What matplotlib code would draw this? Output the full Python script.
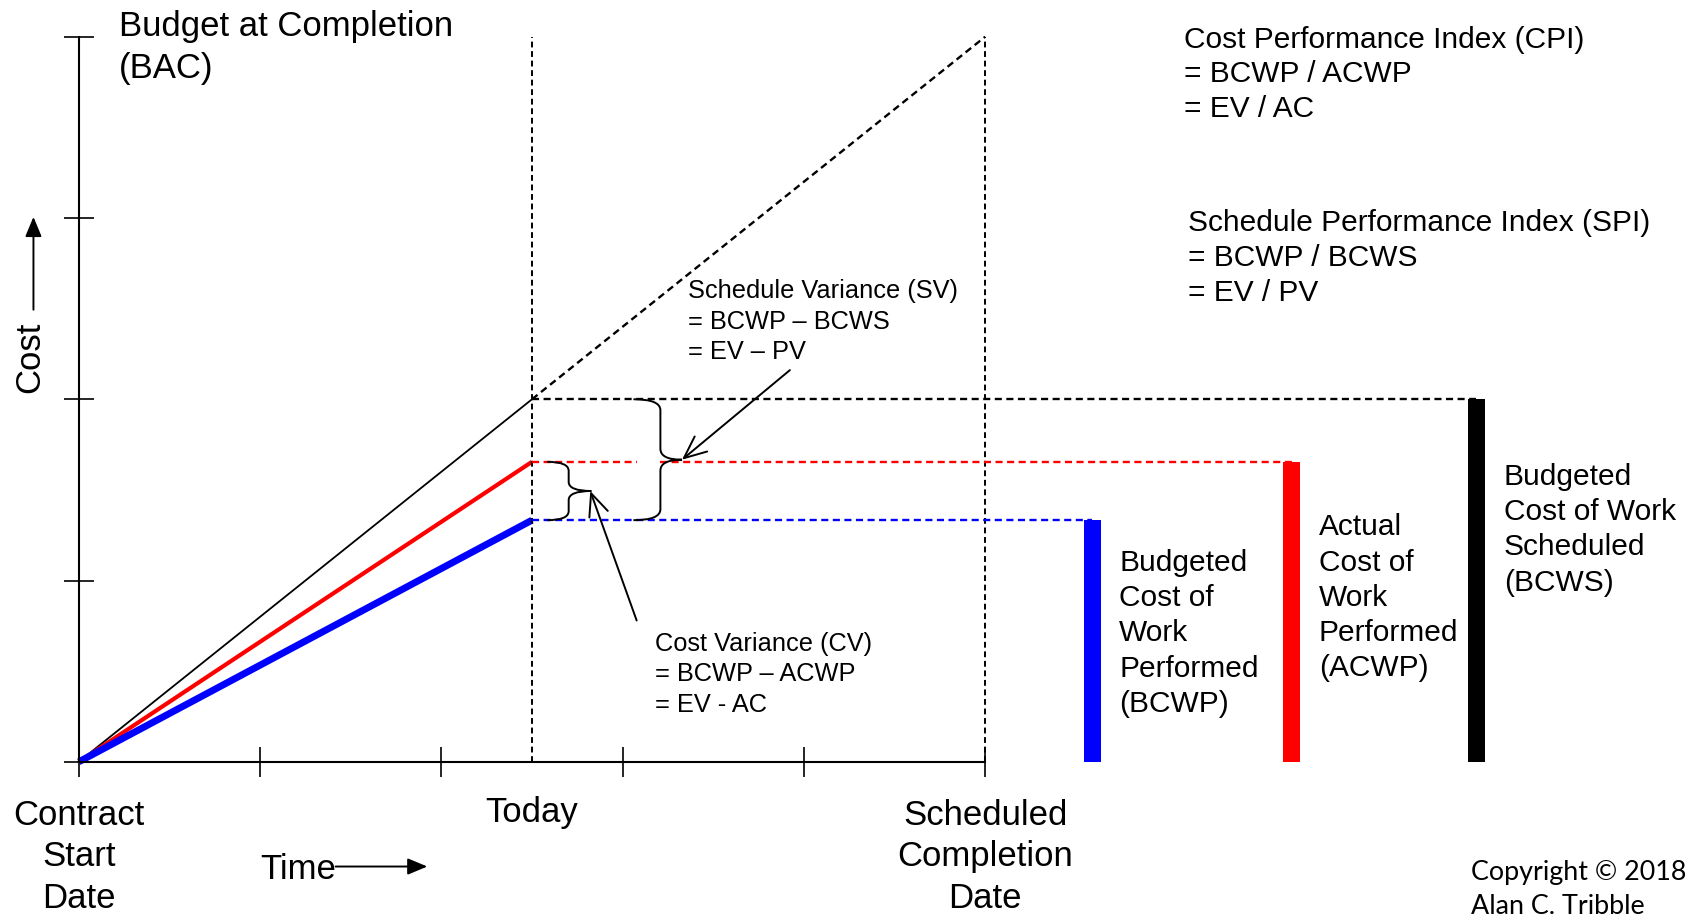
import numpy as np
import matplotlib
matplotlib.use('Agg')
import matplotlib.pyplot as plt
from matplotlib.path import Path
from matplotlib.patches import PathPatch

plt.rcParams['font.family'] = ['Liberation Sans', 'DejaVu Sans']
#===============================================================================
# chart values (time and cost in tick units)
time_ticks = [0, 1, 2, 3, 4, 5]
cost_ticks = [0, 1, 2, 3, 4]
today      = 2.5
completion = 5.0
bac        = 4.0
bcws       = 2.0
acwp       = 1.655
bcwp       = 1.333
bar_names  = ['BCWP', 'ACWP', 'BCWS']
bar_values = [bcwp, acwp, bcws]
bar_colors = ['#0000ff', '#ff0000', '#000000']
bar_x      = [5.59, 6.69, 7.71]
bar_labels = ['Budgeted\nCost of\nWork\nPerformed\n(BCWP)',
              'Actual\nCost of\nWork\nPerformed\n(ACWP)',
              'Budgeted\nCost of Work\nScheduled\n(BCWS)']
label_y    = [587, 554, 491]     # reference pixel rows of label centres
#===============================================================================
# layout helpers: reference pixel (1568 wide view) -> data units
def X(p): return (p - 73) / 168.
def Y(p): return (706 - p) / 168.

def brace(ax, xl, xv, xt, top, bot, d):
    mid = 0.5 * (top + bot)
    verts = [(xl, top), (xv, top), (xv, top - d), (xv, mid + d),
             (xv, mid), (xt, mid), (xv, mid), (xv, mid - d),
             (xv, bot + d), (xv, bot), (xl, bot)]
    codes = [Path.MOVETO, Path.CURVE3, Path.CURVE3, Path.LINETO,
             Path.CURVE3, Path.CURVE3, Path.CURVE3, Path.CURVE3,
             Path.LINETO, Path.CURVE3, Path.CURVE3]
    ax.add_patch(PathPatch(Path(verts, codes), fill=False, lw=1.4,
                           edgecolor='k', zorder=4))
    return mid
#===============================================================================
fig = plt.figure(figsize=(16.92, 9.14), dpi=100)
ax  = fig.add_axes([0, 0, 1, 1])
ax.set_xlim(X(0), X(1568))
ax.set_ylim(Y(847), Y(0))

for s in ['top', 'right']:
    ax.spines[s].set_visible(False)
ax.spines['left'].set_position(('data', 0))
ax.spines['bottom'].set_position(('data', 0))
ax.spines['left'].set_bounds(0, bac)
ax.spines['bottom'].set_bounds(0, completion)
ax.spines['left'].set_linewidth(1.5)
ax.spines['bottom'].set_linewidth(1.5)
ax.set_xticks(time_ticks)
ax.set_yticks(cost_ticks)
ax.tick_params(direction='inout', length=21.6, width=1.2,
               labelbottom=False, labelleft=False)

dash = (0, (3.0, 1.9))
dlw = 1.7
# planned value line
ax.plot([0, today], [0, bcws], color='k', lw=1.3)
ax.plot([today, completion], [bcws, bac], color='k', lw=dlw, ls=dash)
# actual / earned
ax.plot([0, today], [0, acwp], color='#ff0000', lw=3.0, solid_capstyle='butt')
ax.plot([0, today], [0, bcwp], color='#0000ff', lw=5.0, solid_capstyle='butt')
# today / completion verticals
ax.plot([today, today], [0, bac], color='k', lw=1.4, ls=dash)
ax.plot([completion, completion], [0, bac], color='k', lw=1.4, ls=dash)
# level lines to the bars
ax.plot([today, bar_x[2]], [bcws, bcws], color='k', lw=dlw, ls=dash)
ax.plot([today, X(590)], [acwp, acwp], color='#ff0000', lw=dlw, ls=dash)
ax.plot([X(612), bar_x[1]], [acwp, acwp], color='#ff0000', lw=dlw, ls=dash)
ax.plot([today, bar_x[0]], [bcwp, bcwp], color='#0000ff', lw=dlw, ls=dash)

ax.bar(bar_x, bar_values, width=0.095, color=bar_colors, zorder=3)

fs_big = 25
fs_mid = 21.5
fs_small = 18.3
for xb, lab, yl in zip(bar_x, bar_labels, label_y):
    ax.text(xb + 0.15, Y(yl), lab, fontsize=fs_mid, va='center', ha='left',
            linespacing=1.33)
#===============================================================================
# braces and arrows
cv_mid = brace(ax, X(507), X(527), X(548), acwp, bcwp, 0.05)
sv_mid = brace(ax, X(587), X(612), X(632), bcws, bcwp, 0.06)

arr = dict(arrowstyle='->,head_length=0.5,head_width=0.22', lw=1.4,
           color='k', shrinkA=0, shrinkB=0, mutation_scale=32)
ax.annotate('', xy=(X(632), sv_mid), xytext=(X(732), Y(343)), arrowprops=arr)
ax.annotate('', xy=(X(547), cv_mid), xytext=(X(590), Y(575)), arrowprops=arr)
#===============================================================================
# texts
ax.text(X(110), Y(44), 'Budget at Completion\n(BAC)', fontsize=fs_big,
        va='center', ha='left', linespacing=1.38)
ax.text(X(1097), Y(69), 'Cost Performance Index (CPI)\n= BCWP / ACWP\n= EV / AC',
        fontsize=fs_mid, va='center', ha='left', linespacing=1.31)
ax.text(X(1101), Y(239), 'Schedule Performance Index (SPI)\n= BCWP / BCWS\n= EV / PV',
        fontsize=fs_mid, va='center', ha='left', linespacing=1.31)
ax.text(X(638), Y(298), 'Schedule Variance (SV)\n= BCWP \u2013 BCWS\n= EV \u2013 PV',
        fontsize=fs_small, va='center', ha='left', linespacing=1.35)
ax.text(X(607), Y(625), 'Cost Variance (CV)\n= BCWP \u2013 ACWP\n= EV - AC',
        fontsize=fs_small, va='center', ha='left', linespacing=1.35)

ax.text(0, Y(794), 'Contract\nStart\nDate', fontsize=fs_big, va='center',
        ha='center', linespacing=1.33)
ax.text(today, Y(753), 'Today', fontsize=fs_big, va='center', ha='center')
ax.text(completion, Y(794), 'Scheduled\nCompletion\nDate', fontsize=fs_big,
        va='center', ha='center', linespacing=1.33)

ax.text(X(241), Y(806), 'Time', fontsize=fs_big, va='center', ha='left')
ax.annotate('', xy=(X(396), Y(803)), xytext=(X(311), Y(803)),
            arrowprops=dict(arrowstyle='-|>,head_length=0.6,head_width=0.25',
                            lw=1.4, color='k', shrinkA=0, shrinkB=0,
                            mutation_scale=20))
ax.text(X(28), Y(331), 'Cost', fontsize=fs_big, va='center', ha='center',
        rotation=90)
ax.annotate('', xy=(X(31), Y(201)), xytext=(X(31), Y(287)),
            arrowprops=dict(arrowstyle='-|>,head_length=0.6,head_width=0.25',
                            lw=1.4, color='k', shrinkA=0, shrinkB=0,
                            mutation_scale=20))

ax.text(X(1363), Y(824), 'Copyright \u00a9 2018\nAlan C. Tribble',
        fontsize=19.4, va='center', ha='left', linespacing=1.45,
        family=['Lato', 'DejaVu Sans'])

fig.savefig('out.png', dpi=100)
